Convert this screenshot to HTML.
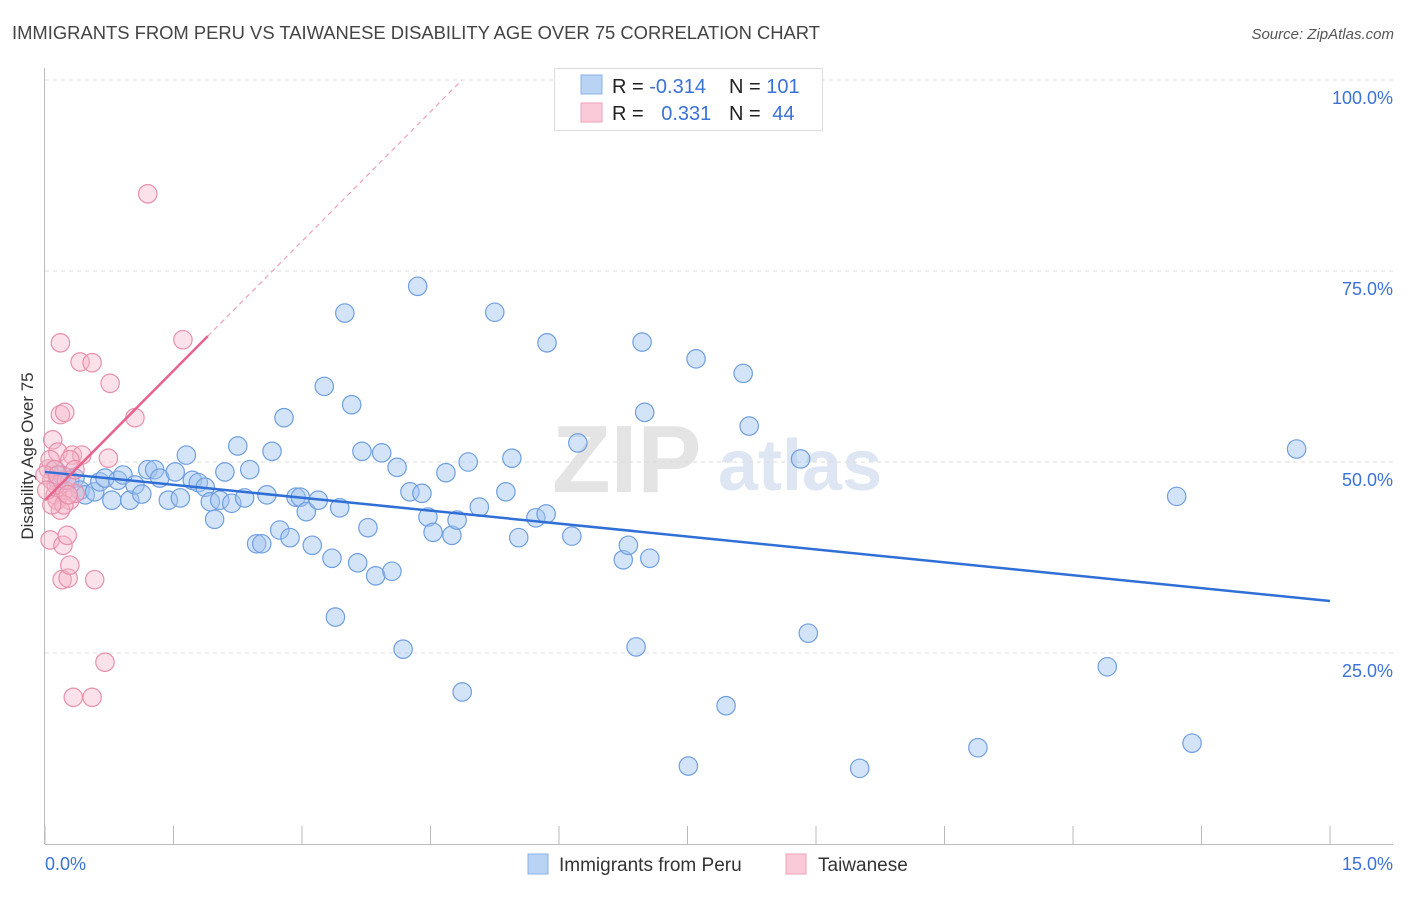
<!DOCTYPE html>
<html><head><meta charset="utf-8"><style>
body{margin:0;background:#fff;font-family:"Liberation Sans",sans-serif;}
svg text{font-family:"Liberation Sans",sans-serif;}
</style></head><body>
<svg id="chart" width="1406" height="892" xmlns="http://www.w3.org/2000/svg">
<text x="12" y="39" font-size="18.4" fill="#444">IMMIGRANTS FROM PERU VS TAIWANESE DISABILITY AGE OVER 75 CORRELATION CHART</text>
<text x="1394" y="39" font-size="15" fill="#555" text-anchor="end" font-style="italic">Source: ZipAtlas.com</text>
<g>
<text x="552" y="492" font-size="96" fill="#e4e4e4" font-family="Liberation Serif" font-weight="bold">ZIP</text>
<text x="718" y="490" font-size="72" fill="#dde6f2" font-weight="bold">atlas</text>
</g>
<g id="grid"></g>
<g id="axes"></g>
<g id="points"></g>
<g id="trends"></g>
<g>
<rect x="554.500" y="68.500" width="268" height="62" fill="#fff" stroke="#ddd"/>
<rect x="581" y="75" width="21" height="19" fill="#b9d3f5" stroke="#8ab0e8"/>
<rect x="581" y="103" width="21" height="19" fill="#fbcad8" stroke="#f0a0ba"/>
<text x="612" y="93" font-size="20" fill="#222">R = <tspan fill="#3a72d8">-0.314</tspan></text>
<text x="729" y="93" font-size="20" fill="#222">N = <tspan fill="#3a72d8">101</tspan></text>
<text x="612" y="120" font-size="20" fill="#222">R = <tspan fill="#3a72d8" dx="12">0.331</tspan></text>
<text x="729" y="120" font-size="20" fill="#222">N = <tspan fill="#3a72d8" dx="6">44</tspan></text>
</g>
<g>
<rect x="528" y="854" width="20" height="20" fill="#b9d3f5" stroke="#8ab0e8"/>
<text x="559" y="871" font-size="19" fill="#333">Immigrants from Peru</text>
<rect x="786" y="854" width="20" height="20" fill="#fbcad8" stroke="#f0a0ba"/>
<text x="818" y="871" font-size="19" fill="#333">Taiwanese</text>
</g>
</svg>
<script>
const blueX=[.12,.15,.20,.29,.35,.41,.47,.58,.64,.70,.78,.85,.91,.99,1.05,1.13,1.20,1.28,1.34,1.44,1.52,1.58,1.65,1.72,1.79,1.87,1.93,1.98,2.04,2.10,2.18,2.25,2.33,2.39,2.47,2.53,2.59,2.65,2.74,2.79,2.86,2.93,2.98,3.05,3.12,3.19,3.26,3.35,3.39,3.44,3.50,3.58,3.65,3.70,3.77,3.86,3.93,4.05,4.11,4.18,4.26,4.35,4.40,4.47,4.53,4.68,4.75,4.81,4.87,4.94,5.07,5.25,5.38,5.45,5.53,5.73,5.85,5.86,6.15,6.22,6.75,6.81,6.90,6.97,7.00,7.06,7.51,7.60,7.95,8.15,8.22,8.82,8.91,9.51,10.89,12.40,13.21,13.39,14.61];
const blueY=[49.0,47.6,48.3,47.6,47.9,46.3,45.7,46.1,47.4,47.9,45.0,47.6,48.3,45.0,47.0,45.8,49.0,49.0,47.9,45.0,48.7,45.3,50.9,47.6,47.3,46.7,44.8,42.5,45.0,48.7,44.6,52.1,45.3,49.0,39.3,39.3,45.7,51.4,41.1,55.8,40.1,45.4,45.4,43.5,39.1,45.0,59.9,37.4,29.7,44.0,69.5,57.5,36.8,51.4,41.4,35.1,51.2,35.7,49.3,25.5,46.1,73.0,45.9,42.8,40.8,48.6,40.4,42.4,19.9,50.0,44.1,69.6,46.1,50.5,40.1,42.7,43.2,65.6,40.3,52.5,37.2,39.1,25.8,65.7,56.5,37.4,10.2,63.5,18.1,61.6,54.7,50.4,27.6,9.9,12.6,23.2,45.5,13.2,51.7];
const pinkX=[.04,.06,.08,.09,.12,.14,.15,.18,.18,.20,.21,.23,.23,.26,.27,.29,.29,.32,.33,.35,.41,.43,.55,.58,.70,.74,.76,1.05,1.20,1.61,.55,.06,.11,.13,.18,.22,.25,.29,0,.02,.08,.15,.35,.27];
const pinkY=[49.1,39.8,47.6,52.9,45.7,45.0,51.3,65.6,56.2,34.6,39.1,56.5,46.3,40.4,34.8,45.0,36.5,50.9,19.2,45.9,63.1,50.9,63.0,34.6,23.8,50.5,60.3,55.8,85.1,66.0,19.2,50.3,49.0,47.0,43.7,44.4,47.6,50.3,48.3,46.3,44.4,48.3,49.0,45.7];
const yTicks=[25,50,75,100];
const yTickLabels=["25.0%","50.0%","75.0%","100.0%"];
const xTicks=[0,1.5,3,4.5,6,7.5,9,10.5,12,13.5,15];
const blueTrend=[48.7,31.8];
const pinkTrend=[45.0,11.3];

const NS="http://www.w3.org/2000/svg";
const X0=45,X1=1330,Y0=844,Y100=80;
const sx=v=>X0+(v/15)*(X1-X0);
const sy=v=>Y0-(v/100)*(Y0-Y100);
function mk(tag,attrs,parent){const e=document.createElementNS(NS,tag);for(const k in attrs)e.setAttribute(k,attrs[k]);parent.appendChild(e);return e;}
const grid=document.getElementById('grid'),axes=document.getElementById('axes'),pts=document.getElementById('points'),tr=document.getElementById('trends');
yTicks.forEach((t,i)=>{
 const l=mk('line',{x1:45,x2:1393,y1:sy(t),y2:sy(t),stroke:'#ddd','stroke-dasharray':'4,4'},grid);
 
 
 const tx=mk('text',{x:1393,y:sy(t)+24,'font-size':18,fill:'#3a72d8','text-anchor':'end'},axes);
 tx.textContent=yTickLabels[i];
 
 
});
const ax=mk('line',{x1:45,x2:1393,y1:844.5,y2:844.5,stroke:'#bbb'},axes);


const ay=mk('line',{x1:44.5,x2:44.5,y1:68,y2:844,stroke:'#bbb'},axes);


xTicks.forEach(t=>{
 const l=mk('line',{x1:sx(t),x2:sx(t),y1:826,y2:844,stroke:'#bbb'},axes);
 
 
});
const xl0=mk('text',{x:45,y:870,'font-size':18,fill:'#3a72d8'},axes);xl0.textContent="0.0%";


const xl1=mk('text',{x:1393,y:870,'font-size':18,fill:'#3a72d8','text-anchor':'end'},axes);xl1.textContent="15.0%";


const yt=mk('text',{x:0,y:0,'font-size':17,fill:'#333','text-anchor':'middle',transform:'translate(33,456) rotate(-90)'},axes);yt.textContent="Disability Age Over 75";


blueX.forEach((x,i)=>{
 const c=mk('circle',{cx:sx(x),cy:sy(blueY[i]),r:9.2,fill:'rgba(160,196,240,0.45)',stroke:'#6f9fe0','stroke-width':1.2},pts);
 
 
});
pinkX.forEach((x,i)=>{
 const c=mk('circle',{cx:sx(x),cy:sy(pinkY[i]),r:9.2,fill:'rgba(245,180,200,0.4)',stroke:'#e890aa','stroke-width':1.2},pts);
 
 
});
const bl=mk('line',{x1:sx(0),y1:sy(blueTrend[0]),x2:sx(15),y2:sy(blueTrend[1]),stroke:'#2f6fd6','stroke-width':2.5},tr);


const pf=v=>pinkTrend[0]+pinkTrend[1]*v;
const xEndSolid=1.9,xEndDash=(100-pinkTrend[0])/pinkTrend[1];
const pl=mk('line',{x1:sx(0),y1:sy(pf(0)),x2:sx(xEndSolid),y2:sy(pf(xEndSolid)),stroke:'#e8628e','stroke-width':2.5},tr);


const pd=mk('line',{x1:sx(xEndSolid),y1:sy(pf(xEndSolid)),x2:sx(xEndDash),y2:sy(100),stroke:'#f0a0b8','stroke-width':1.2,'stroke-dasharray':'5,4'},tr);


</script>
</body></html>
